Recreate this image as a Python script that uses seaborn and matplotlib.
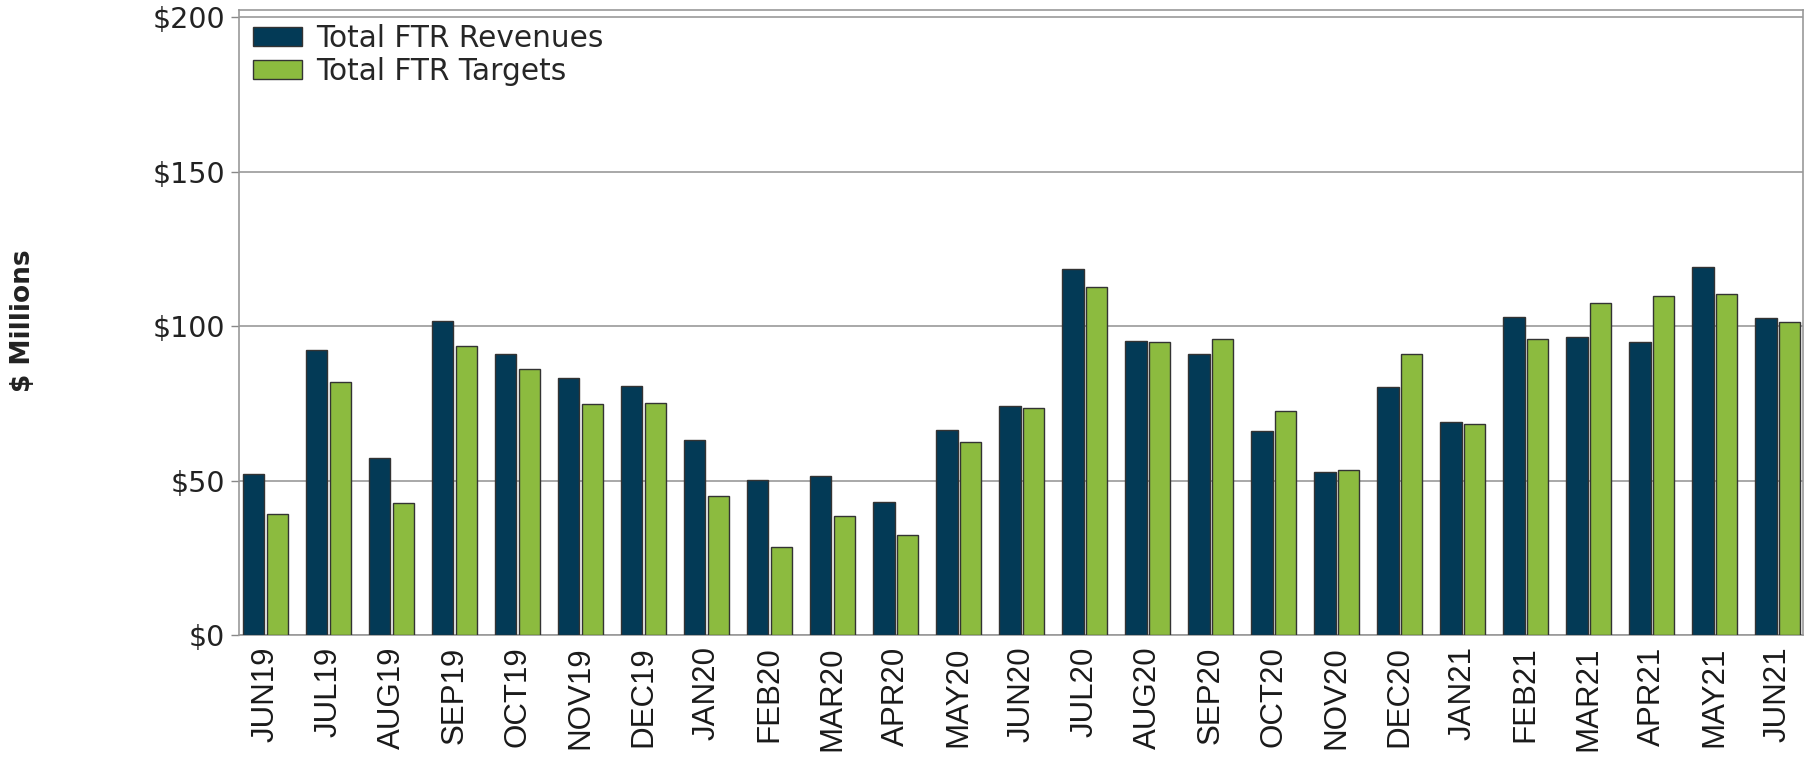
#!/usr/bin/env python3
"""
Monthly FTR revenues vs FTR targets, Jun 2019 - Jun 2021.
"""

import matplotlib
matplotlib.use("Agg")
import matplotlib.pyplot as plt
import pandas as pd
import seaborn as sns

months = [
    "JUN19", "JUL19", "AUG19", "SEP19", "OCT19", "NOV19", "DEC19",
    "JAN20", "FEB20", "MAR20", "APR20", "MAY20", "JUN20", "JUL20",
    "AUG20", "SEP20", "OCT20", "NOV20", "DEC20", "JAN21", "FEB21",
    "MAR21", "APR21", "MAY21", "JUN21",
]
revenues = [
    52.2, 92.2, 57.3, 101.6, 91.0, 83.2, 80.6,
    63.1, 50.2, 51.4, 43.1, 66.5, 74.3, 118.5,
    95.2, 91.0, 66.1, 52.8, 80.3, 68.9, 103.1,
    96.4, 94.9, 119.0, 102.7,
]
targets = [
    39.4, 82.1, 42.8, 93.5, 86.1, 74.8, 75.1,
    45.2, 28.6, 38.6, 32.3, 62.7, 73.5, 112.6,
    94.8, 95.9, 72.7, 53.6, 91.0, 68.2, 95.9,
    107.6, 109.8, 110.5, 101.5,
]
series_names = ["Total FTR Revenues", "Total FTR Targets"]
colors = ["#033A56", "#8CBB3F"]


def main() -> None:
    df = pd.DataFrame({
        "month": months * 2,
        "value": revenues + targets,
        "series": [series_names[0]] * len(months) + [series_names[1]] * len(months),
    })

    sns.set_theme(style="white")
    plt.rcParams["font.family"] = ["DejaVu Sans"]

    fig = plt.figure(figsize=(18.12, 7.6), dpi=100)
    ax = fig.add_axes([0.132, 0.164, 0.863, 0.823])

    sns.barplot(
        ax=ax,
        data=df,
        x="month",
        y="value",
        hue="series",
        palette=colors,
        width=0.75,
        gap=0.1,
        edgecolor="#333333",
        linewidth=1.0,
        saturation=1,
        zorder=3,
    )

    ax.set_ylim(0, 202.3)
    ax.set_xlim(-0.42, len(months) - 0.6)
    ax.set_yticks([0, 50, 100, 150, 200])
    ax.set_yticklabels([f"${v}" for v in (0, 50, 100, 150, 200)],
                       fontsize=20.5, color="#222222")
    ax.yaxis.grid(True, color="#9a9a9a", linewidth=1.2, zorder=0)
    ax.tick_params(axis="y", length=6, width=1, color="#888888", left=True, pad=4)
    ax.tick_params(axis="x", length=0, pad=8)
    for label in ax.get_xticklabels():
        label.set_rotation(90)
        label.set_fontsize(22.5)
        label.set_family(["Liberation Sans", "DejaVu Sans"])
        label.set_color("#1a1a1a")

    for spine in ax.spines.values():
        spine.set_color("#999999")
        spine.set_linewidth(1.2)

    ax.set_xlabel("")
    ax.set_ylabel("")
    fig.text(0.0127, 0.578, "$ Millions", rotation=90, ha="center", va="center",
             fontsize=19, fontweight="bold", color="#222222")

    ax.legend(
        loc="upper left",
        frameon=False,
        fontsize=21.3,
        handlelength=1.66,
        handleheight=0.62,
        handletextpad=0.47,
        labelspacing=0.15,
        borderpad=0.2,
        borderaxespad=0.27,
    )

    fig.savefig("out.png", dpi=100)


if __name__ == "__main__":
    main()
